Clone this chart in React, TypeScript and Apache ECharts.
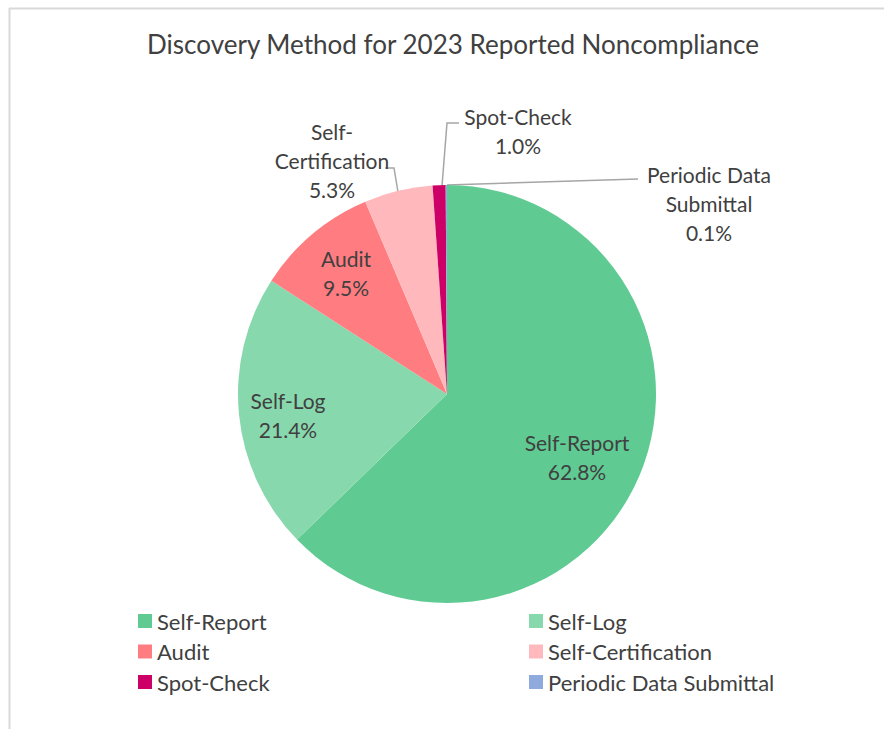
import { useEffect, useRef } from 'react';
import * as echarts from 'echarts';

const categories = ['Self-Report', 'Self-Log', 'Audit', 'Self-Certification', 'Spot-Check', 'Periodic Data Submittal'];
const values = [62.8, 21.4, 9.5, 5.3, 1.0, 0.1];
const labelNames = ['Self-Report', 'Self-Log', 'Audit', 'Self-\nCertification', 'Spot-Check', 'Periodic Data\nSubmittal'];
const colors = ['#5FCB93', '#88D8AE', '#FF7C80', '#FFB9BC', '#CC0066', '#8FAADC'];
const titleText = 'Discovery Method for 2023 Reported Noncompliance';

export default function App() {
  const ref = useRef<HTMLDivElement>(null);
  useEffect(() => {
    const chart = echarts.init(ref.current!, null, { renderer: 'svg' });
    const font = 'Lato';
    const textColor = '#404040';
    const outside = [false, false, false, true, true, true];
    const labelPos: number[][] = [[577, 457], [288, 415], [346, 273], [332, 160], [518, 131], [709, 203]];
    const linePts: (number[][] | null)[] = [
      null, null, null,
      [[398, 192], [394, 168], [385, 168]],
      [[442, 186], [447, 123], [459, 123]],
      [[447, 185], [540, 182], [638, 179]],
    ];
    const data = categories.map((name, i) => ({
      name,
      value: values[i],
      itemStyle: { color: colors[i] },
      label: { position: outside[i] ? 'outside' : 'inside' },
      labelLine: { show: outside[i] },
    }));
    const legendCommon = {
      orient: 'vertical',
      top: 601,
      icon: 'rect',
      itemWidth: 14,
      itemHeight: 14,
      itemGap: 0.5,
      textStyle: { fontFamily: font, fontSize: 22, color: textColor, lineHeight: 30 },
    };
    chart.setOption({
      animation: false,
      backgroundColor: '#ffffff',
      title: {
        text: titleText,
        left: 448,
        top: 26,
        textAlign: 'center',
        textStyle: { fontFamily: font, fontSize: 26, fontWeight: 'normal', color: textColor },
      },
      legend: [
        { ...legendCommon, left: 133, data: [categories[0], categories[2], categories[4]] },
        { ...legendCommon, left: 524, data: [categories[1], categories[3], categories[5]] },
      ],
      graphic: [
        { type: 'line', shape: { x1: 9, y1: 8.5, x2: 884, y2: 8.5 }, style: { stroke: '#D9D9D9', lineWidth: 2 } },
        { type: 'line', shape: { x1: 9.5, y1: 8, x2: 9.5, y2: 729 }, style: { stroke: '#D9D9D9', lineWidth: 2 } },
      ],
      series: [
        {
          type: 'pie',
          center: [447, 394],
          radius: 209,
          startAngle: 90,
          clockwise: true,
          avoidLabelOverlap: false,
          silent: true,
          itemStyle: { borderWidth: 0 },
          label: {
            show: true,
            fontFamily: font,
            fontSize: 21,
            lineHeight: 29,
            color: textColor,
            align: 'center',
            formatter: (p: any) => `${labelNames[p.dataIndex]}\n${values[p.dataIndex].toFixed(1)}%`,
          },
          labelLine: { show: true, lineStyle: { color: '#A6A6A6', width: 1.5 } },
          labelLayout: (p: any) => {
            const i = p.dataIndex;
            const res: any = { x: labelPos[i][0], y: labelPos[i][1], align: 'center', verticalAlign: 'middle' };
            if (linePts[i]) res.labelLinePoints = linePts[i];
            return res;
          },
          data,
        },
      ],
    });
    return () => chart.dispose();
  }, []);
  return <div ref={ref} style={{ position: 'absolute', left: 0, top: 0, width: 884, height: 729 }} />;
}
